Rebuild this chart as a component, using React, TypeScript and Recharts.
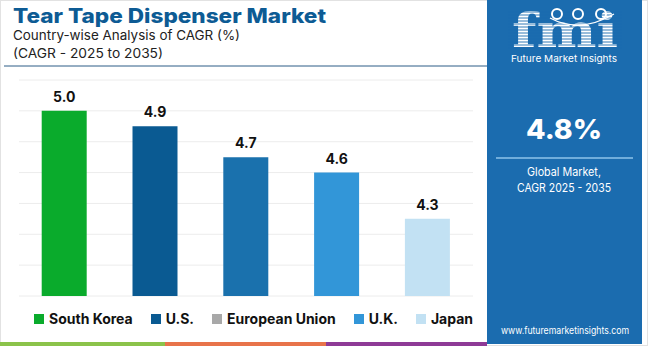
import React from 'react';
import { BarChart, Bar, XAxis, YAxis, CartesianGrid, Cell, LabelList } from 'recharts';

const countries = ['South Korea', 'U.S.', 'European Union', 'U.K.', 'Japan'];
const cagr = [5.0, 4.9, 4.7, 4.6, 4.3];
const barColors = ['#0aab2c', '#0a5a92', '#1a71ad', '#3296d8', '#c2e1f3'];
const legendColors = ['#0aab2c', '#0a5a92', '#a8a8a8', '#3296d8', '#c2e1f3'];
const yTicks = [3.8, 4.0, 4.2, 4.4, 4.6, 4.8, 5.0, 5.2];

const title = 'Tear Tape Dispenser Market';
const subtitle1 = 'Country-wise Analysis of CAGR (%)';
const subtitle2 = '(CAGR - 2025 to 2035)';
const globalValue = '4.8%';
const globalLabel1 = 'Global Market,';
const globalLabel2 = 'CAGR 2025 - 2035';
const website = 'www.futuremarketinsights.com';
const brand = 'Future Market Insights';

const data = countries.map((c, i) => ({ name: c, value: cagr[i] }));

const FONT = 'Inter, "Open Sans", sans-serif';

const LegendContent = () => (
  <div style={{ display: 'flex', alignItems: 'center', fontFamily: FONT, fontWeight: 700, fontSize: 14, color: '#111', lineHeight: '20px' }}>
    {countries.map((c, i) => (
      <div key={c} style={{ display: 'flex', alignItems: 'center', marginRight: 18 }}>
        <span style={{ width: 10, height: 10, background: legendColors[i], display: 'inline-block', marginRight: 5 }} />
        <span>{c}</span>
      </div>
    ))}
  </div>
);

const Logo = () => {
  const stripes = [];
  for (let y = 12; y < 49; y += 3) stripes.push(y);
  return (
    <g>
      <text x={512} y={47} fontFamily='"DejaVu Serif", serif' fontWeight={700} fontSize={46} fill="#fff" textLength={106} lengthAdjust="spacingAndGlyphs">fmi</text>
      {stripes.map((y) => (
        <line key={y} x1={508} x2={622} y1={y} y2={y} stroke="#1b6caf" strokeWidth={0.9} />
      ))}
      <circle cx={557} cy={14} r={5} fill="none" stroke="#fff" strokeWidth={2} />
      <circle cx={578} cy={14} r={5} fill="none" stroke="#fff" strokeWidth={2} />
      <circle cx={601} cy={14} r={5} fill="none" stroke="#fff" strokeWidth={2} />
      <path d="M 550 18 Q 580 34 614 14" fill="none" stroke="#fff" strokeWidth={1.2} />
      <text x={511} y={62} fontFamily={FONT} fontSize={9.5} fill="#fff" textLength={106} lengthAdjust="spacingAndGlyphs">{brand}</text>
    </g>
  );
};

export default function App() {
  return (
    <div style={{ position: 'absolute', left: 0, top: 0, width: 650, height: 346, background: '#fff', overflow: 'hidden' }}>
      <svg width={650} height={346} style={{ position: 'absolute', left: 0, top: 0 }}>
        <rect x={0.5} y={0.5} width={647} height={345} fill="#fff" stroke="#e2e2e2" />
        <text x={13} y={23} fontFamily={FONT} fontWeight={800} fontSize={20} fill="#0d5b94" textLength={313} lengthAdjust="spacingAndGlyphs">{title}</text>
        <text x={13} y={40} fontFamily={FONT} fontSize={13} fill="#222" textLength={227} lengthAdjust="spacingAndGlyphs">{subtitle1}</text>
        <text x={13} y={58} fontFamily={FONT} fontSize={13} fill="#222" textLength={150} lengthAdjust="spacingAndGlyphs">{subtitle2}</text>
        <line x1={4} x2={487} y1={66} y2={66} stroke="#2d5d86" strokeWidth={1} />
        <rect x={0} y={342} width={165} height={4} fill="#8bc34a" />
        <rect x={165} y={342} width={161} height={4} fill="#e8734a" />
        <rect x={326} y={342} width={161} height={4} fill="#8e3a96" />
        <rect x={487} y={0} width={155} height={344} fill="#1b6caf" />
        <Logo />
        <text x={564} y={139} textAnchor="middle" fontFamily={FONT} fontWeight={800} fontSize={27} fill="#fff" textLength={76} lengthAdjust="spacingAndGlyphs">{globalValue}</text>
        <line x1={496} x2={633} y1={158} y2={158} stroke="#8ec3ea" strokeWidth={1.5} />
        <text x={564} y={176} textAnchor="middle" fontFamily={FONT} fontSize={11.5} fill="#fff" textLength={74} lengthAdjust="spacingAndGlyphs">{globalLabel1}</text>
        <text x={564} y={192} textAnchor="middle" fontFamily={FONT} fontSize={11.5} fill="#fff" textLength={94} lengthAdjust="spacingAndGlyphs">{globalLabel2}</text>
        <text x={565} y={334} textAnchor="middle" fontFamily={FONT} fontSize={10} fill="#fff" textLength={128} lengthAdjust="spacingAndGlyphs">{website}</text>
      </svg>
      <div style={{ position: 'absolute', left: 0, top: 0 }}>
        <BarChart width={650} height={346} data={data} margin={{ top: 80, right: 177, bottom: 50, left: 19 }} barCategoryGap="25%">
          <CartesianGrid horizontal vertical={false} stroke="#ececec" />
          <XAxis dataKey="name" hide />
          <YAxis domain={[3.8, 5.2]} ticks={yTicks} hide />
          <Bar dataKey="value" isAnimationActive={false}>
            {data.map((d, i) => (
              <Cell key={d.name} fill={barColors[i]} />
            ))}
            <LabelList dataKey="value" position="top" offset={9} formatter={(v: number) => v.toFixed(1)} style={{ fontFamily: FONT, fontWeight: 700, fontSize: 14, fill: '#111' }} />
          </Bar>
        </BarChart>
      </div>
      <div style={{ position: 'absolute', left: 34, top: 309, width: 460 }}>
        <LegendContent />
      </div>
    </div>
  );
}
